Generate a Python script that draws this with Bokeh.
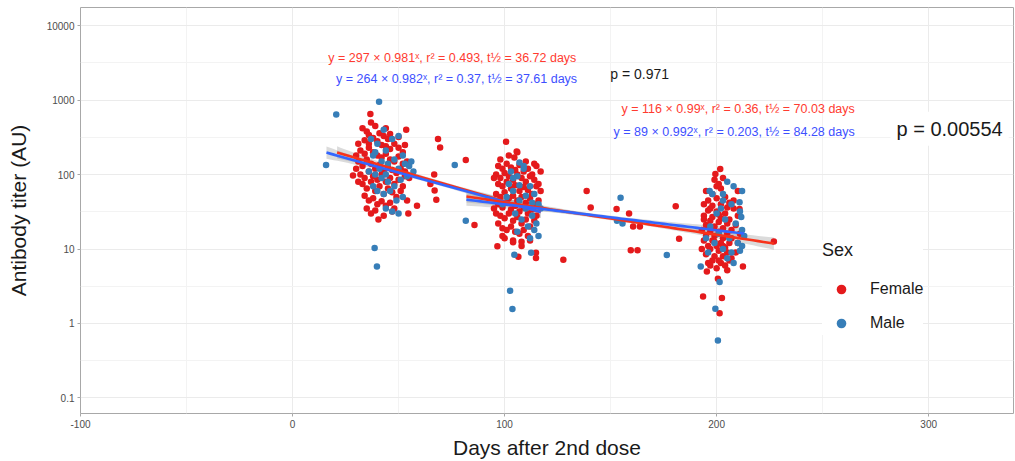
import numpy as np
from bokeh.plotting import figure
from bokeh.models import FixedTicker, Label, Legend, LegendItem, Range1d
from bokeh.embed import file_html
from bokeh.resources import INLINE

# ---------------- data ----------------
# Female points: (days after 2nd dose, antibody titer)
female_c1 = [(33,420),(35,380),(37,500),(39,450),(41,360),(43,330),(45,300),(34,290),(36,260),(38,310),
             (40,280),(42,250),(44,240),(46,220),(48,260),(50,230),(32,210),(34,190),(36,230),(38,200),
             (40,180),(42,170),(44,190),(46,160),(48,150),(50,175),(52,140),(31,150),(33,130),(35,160),
             (37,140),(39,120),(41,135),(43,110),(45,125),(47,115),(49,105),(51,120),(53,95),(32,100),
             (34,90),(36,110),(38,95),(40,85),(42,100),(44,80),(46,90),(48,75),(50,85),(52,70),
             (33,75),(35,65),(37,80),(39,60),(41,70),(43,55),(45,65),(47,58),(49,50),(34,52),
             (36,45),(38,48),(40,40),(42,44),(44,38),(46,42),(48,35),(35,35),(37,30),(39,33),
             (43,28),(47,32),(51,60),(53,110),(54,150),(55,90),(30,180),(31,260),(36,340),(44,420),
             (46,350),(50,320),(52,200),(53,250),(31,80),(54,45),(30,120)]
female_c2 = [(97,130),(99,120),(101,140),(103,125),(105,115),(107,135),(109,110),(111,120),(113,100),(115,130),
             (96,100),(98,90),(100,105),(102,95),(104,85),(106,100),(108,90),(110,80),(112,95),(114,85),
             (116,75),(97,75),(99,70),(101,80),(103,65),(105,72),(107,60),(109,68),(111,62),(113,55),
             (115,70),(96,55),(98,50),(100,58),(102,48),(104,52),(106,45),(108,50),(110,42),(112,48),
             (114,40),(116,45),(97,40),(99,36),(101,42),(103,34),(105,38),(107,32),(109,36),(111,30),
             (113,34),(115,28),(96,30),(98,28),(100,26),(102,30),(104,24),(106,27),(108,22),(110,25),
             (112,20),(114,24),(97,22),(99,19),(101,18),(103,20),(105,17),(107,16),(109,18),(111,15),
             (100,14),(104,13),(108,12.5),(112,13),(98,160),(102,180),(110,150),(114,140),(95,90),(117,60),
             (117,110),(95,35),(106,200),(108,11)]
female_c3 = [(200,70),(202,65),(198,55),(204,50),(196,45),(200,48),(206,42),(194,40),(198,38),(202,40),
             (208,35),(196,33),(200,32),(204,30),(210,28),(194,28),(198,27),(202,26),(206,25),(197,24),
             (201,23),(205,22),(209,21),(195,21),(199,20),(203,19),(207,18),(193,18),(197,17),(201,17),
             (205,16),(211,16),(195,15),(199,15),(203,14),(207,14),(194,13),(198,13),(202,12),(206,12),
             (210,12),(196,11),(200,11),(204,10.5),(193,10),(197,10),(201,9.5),(205,9),(209,9),(195,8.5),
             (199,8),(203,8),(207,7.5),(198,7),(202,6.5),(196,6.5),(204,6),(200,5.5),(206,7),(194,25),
             (208,45),(210,60),(199,85),(203,90),(195,60),(197,35),(205,36),(201,29),(199,12.5),(203,11),
             (197,6),(201,7),(205,5.2)]
female_out = [(53.6,400),(68.6,300),(69.6,232),(65,75),(67,61),(67.8,46),(58.7,38),(54.6,30),(40.5,25),
              (36.7,650),(28.5,97),(66.8,100),(81.7,157),(85.8,21),(100.7,277),(105.7,205),(104.6,170),
              (96.6,10.9),(127.7,7.2),(106.5,7.9),(114.8,8.9),(114.8,7.6),(99,15),(104,12.3),(138.7,60),
              (140.6,36),(152.8,34.6),(158.7,30),(160.6,20),(163.8,20),(159.5,9.6),(162.7,9.6),(180.7,37.6),
              (182.3,13.7),(201.7,119),(199.4,102),(201,75),(210.8,34.6),(227,12.6),(195.4,5.0),(212.4,5.8),
              (200.6,4.0),(193.6,2.3),(202.5,2.2),(201.4,1.37)]

# Male points
male_c1 = [(37,300),(40,260),(44,210),(47,300),(50,330),(52,180),(38,180),(42,150),(45,140),(48,160),
           (50,120),(53,140),(55,130),(36,110),(39,100),(42,90),(45,80),(48,70),(51,85),(54,95),
           (40,60),(43,55),(46,60),(49,45),(52,50),(44,35),(47,32),(50,30),(41,120),(44,100),
           (56,150),(57,110),(39,200),(43,400),(38,70)]
male_c2 = [(103,110),(106,95),(109,120),(112,70),(114,55),(116,40),(104,60),(107,45),(110,35),(113,28),
           (115,22),(102,75),(105,30),(108,25),(111,20),(114,18),(116,15),(117,35),(101,50),(104,90),
           (107,72),(110,52),(113,42),(99,40),(106,17),(112,14)]
male_c3 = [(205,80),(208,70),(212,60),(198,55),(203,45),(207,40),(211,32),(200,30),(204,25),(209,22),
           (212,18),(197,20),(201,16),(206,14),(210,12),(213,15),(199,12),(203,10),(207,9),(211,9.5),
           (195,14),(202,35),(196,9),(205,7.5),(208,6.5),(212,11)]
male_out = [(20.6,640),(40.8,955),(15.8,135),(76.5,135),(38.7,10.3),(39.8,5.8),(81.7,24),(107,145),
            (109,130),(104.6,8.4),(112.5,8.9),(102.6,2.75),(103.7,1.56),(154.7,49),(153,24),(155.6,22),
            (176.5,8.3),(196.7,60),(203,55),(210.8,42.5),(211.6,27),(192.5,5.8),(201.4,3.6),(199.4,1.57),
            (200.6,0.59)]

# Exponential fits y = a * b^x (from the annotations) and their x extents
fit_sex = ["Female", "Male", "Female", "Male"]
fit_a = [297, 264, 116, 89]
fit_b = [0.981, 0.982, 0.99, 0.992]
fit_start = [21, 16, 82, 82]
fit_end = [117, 117, 227, 213]

eq_texts = ["y = 297 × 0.981ˣ,  r² = 0.493,  t½ = 36.72 days",
            "y = 264 × 0.982ˣ,  r² = 0.37,  t½ = 37.61 days",
            "y = 116 × 0.99ˣ,  r² = 0.36,  t½ = 70.03 days",
            "y = 89 × 0.992ˣ,  r² = 0.203,  t½ = 84.28 days"]
p_texts = ["p = 0.971", "p = 0.00554"]

x_ticks = [-100, 0, 100, 200, 300]
y_ticks = [0.1, 1, 10, 100, 1000, 10000]
y_tick_labels = ["0.1", "1", "10", "100", "1000", "10000"]

# ---------------- styling ----------------
RED_PT = "#E41A1C"
BLUE_PT = "#377EB8"
RED_LN = "#F8331B"
BLUE_LN = "#3366FF"
RED_TX = "#FF3B30"
BLUE_TX = "#3D4FFF"
FONT = "Liberation Sans"

p = figure(width=1015, height=461, x_range=Range1d(-100, 340), y_range=Range1d(0.0616, 17600),
           y_axis_type="log", output_backend="svg", toolbar_location=None,
           min_border_left=80, min_border_right=2, min_border_top=7, min_border_bottom=47)
p.background_fill_color = "white"
p.border_fill_color = "white"
p.outline_line_color = "#A8A8A8"

p.xaxis.ticker = FixedTicker(ticks=x_ticks, minor_ticks=[-50, 50, 150, 250])
p.yaxis.ticker = FixedTicker(ticks=y_ticks, minor_ticks=[10 ** (k + 0.5) for k in range(-2, 5)])
p.yaxis.major_label_overrides = {t: l for t, l in zip(y_ticks, y_tick_labels)}
p.xaxis.major_label_overrides = {t: str(t) for t in x_ticks}

for ax in (p.xaxis, p.yaxis):
    ax.axis_line_color = None
    ax.major_tick_line_color = "#A8A8A8"
    ax.major_tick_out = 3
    ax.major_tick_in = 0
    ax.minor_tick_out = 0
    ax.minor_tick_in = 0
    ax.major_label_text_font = FONT
    ax.major_label_text_font_size = "10px"
    ax.major_label_text_color = "#4D4D4D"
    ax.major_label_standoff = 3
    ax.axis_label_text_font = FONT
    ax.axis_label_text_font_size = "21px"
    ax.axis_label_text_font_style = "normal"
    ax.axis_label_text_color = "#1A1A1A"
p.xaxis.axis_label = "Days after 2nd dose"
p.yaxis.axis_label = "Antibody titer (AU)"
p.xaxis.axis_label_standoff = 5
p.yaxis.axis_label_standoff = 14

for g in (p.xgrid, p.ygrid):
    g.grid_line_color = "#EBEBEB"
    g.grid_line_width = 1
    g.minor_grid_line_color = "#F3F3F3"
    g.minor_grid_line_width = 1

# confidence bands
for sex, a, b, x0, x1 in zip(fit_sex, fit_a, fit_b, fit_start, fit_end):
    xs = np.linspace(x0, x1, 60)
    ly = np.log10(a) + xs * np.log10(b)
    t = (xs - (x0 + x1) / 2) / ((x1 - x0) / 2)
    hw = 0.022 + 0.06 * t ** 2
    p.varea(x=xs, y1=10 ** (ly - hw), y2=10 ** (ly + hw), fill_color="#999999", fill_alpha=0.35)

# points
f_all = female_c1 + female_c2 + female_c3 + female_out
m_all = male_c1 + male_c2 + male_c3 + male_out
rf = p.scatter([d for d, v in f_all], [v for d, v in f_all], size=6.5, color=RED_PT, line_color=None)
rm = p.scatter([d for d, v in m_all], [v for d, v in m_all], size=6.5, color=BLUE_PT, line_color=None)

# fit lines
for sex, a, b, x0, x1 in zip(fit_sex, fit_a, fit_b, fit_start, fit_end):
    xs = np.linspace(x0, x1, 60)
    ys = a * b ** xs
    p.line(xs, ys, line_color=RED_LN if sex == "Female" else BLUE_LN, line_width=2.6)

# annotations
ann_pos = [(77, 3700), (79, 1936), (211.8, 767), (209.9, 377)]
ann_col = [RED_TX, BLUE_TX, RED_TX, BLUE_TX]
for txt, (x, y), c in zip(eq_texts, ann_pos, ann_col):
    p.add_layout(Label(x=x, y=y, text=txt, text_align="center", text_baseline="middle",
                       text_font=FONT, text_font_size="12.5px", text_color=c))
p.add_layout(Label(x=163.7, y=2260, text=p_texts[0], text_align="center", text_baseline="middle",
                   text_font=FONT, text_font_size="14px", text_color="#1A1A1A"))
p.add_layout(Label(x=282, y=414, text=p_texts[1], text_align="left", text_baseline="middle",
                   text_font=FONT, text_font_size="20px", text_color="#1A1A1A",
                   background_fill_color="white", padding=6))

legend = Legend(items=[LegendItem(label="Female", renderers=[rf]),
                       LegendItem(label="Male", renderers=[rm])],
                location=(742, 78), title="Sex", orientation="vertical")
legend.title_text_font = FONT
legend.title_text_font_size = "18px"
legend.title_text_font_style = "normal"
legend.title_text_color = "#1A1A1A"
legend.title_standoff = 16
legend.label_text_font = FONT
legend.label_text_font_size = "16px"
legend.label_text_color = "#1A1A1A"
legend.glyph_width = 38
legend.glyph_height = 24
legend.label_height = 24
legend.label_standoff = 10
legend.spacing = 10
legend.padding = 17
legend.margin = 0
legend.border_line_color = None
legend.background_fill_color = "white"
legend.background_fill_alpha = 1.0
p.add_layout(legend, "center")

open("out.html", "w").write(file_html(p, INLINE))
